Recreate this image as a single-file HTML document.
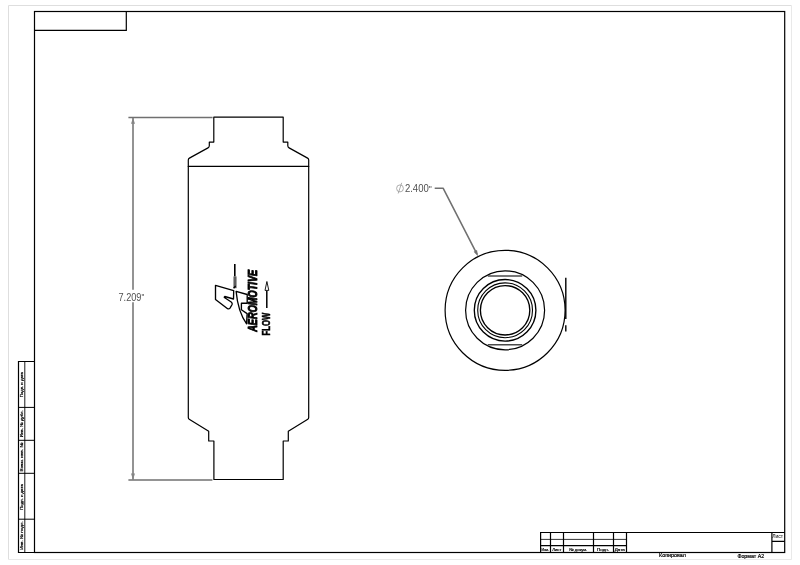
<!DOCTYPE html>
<html lang="ru">
<head>
<meta charset="utf-8">
<title>Aeromotive filter drawing</title>
<style>
html,body{margin:0;padding:0;background:#fff;overflow:hidden;}
body{width:800px;height:565px;position:relative;font-family:"Liberation Sans",sans-serif;}
svg{position:absolute;left:0;top:0;display:block;filter:grayscale(1);will-change:transform;}
text{font-family:"Liberation Sans",sans-serif;}
</style>
</head>
<body>
<svg width="800" height="565" viewBox="0 0 800 565">
  <rect x="0" y="0" width="800" height="565" fill="#ffffff"/>

  <!-- page edge (light grey) -->
  <path d="M8.5 559.5V5.5H791.5" fill="none" stroke="#dedede" stroke-width="1"/>
  <path d="M791.5 5.5V559.5H8.5" fill="none" stroke="#e9e9e9" stroke-width="1"/>

  <!-- main frame -->
  <g fill="none" stroke="#000" stroke-width="1.2" stroke-linejoin="miter">
    <rect x="34.5" y="11.5" width="750.2" height="541"/>
    <!-- top-left small box -->
    <path d="M34.5 30.4H126.3V11.5"/>
    <!-- title block -->
    <path d="M540.6 552.5V532.5H784.7"/>
    <path d="M771.9 532.5V552.5M771.9 541.3H784.7"/>
    <path d="M626.5 532.5V552.5"/>
    <path d="M550.5 532.5V552.5M563.5 532.5V552.5M593.5 532.5V552.5M613.5 532.5V552.5"/>
    <!-- left side block -->
    <path d="M34.5 361.5H18.5V552.5H34.5"/>
    <path d="M18.5 407.4H34.5M18.5 440.3H34.5M18.5 473.3H34.5M18.5 519.2H34.5" stroke-width="1"/>
  </g>
  <g fill="none" stroke="#000" stroke-width="1">
    <path d="M540.5 539.4H626.5" stroke-width="0.8"/>
    <path d="M24.8 361.5V552.5" stroke-width="0.9"/>
  </g>
  <path d="M540.5 545.7H626.5" fill="none" stroke="#000" stroke-width="1.25"/>

  <!-- title block labels -->
  <g font-size="4.2" fill="#000" stroke="#000" stroke-width="0.2">
    <text x="541.4" y="550.9" textLength="7.6" lengthAdjust="spacingAndGlyphs">Изм.</text>
    <text x="552.2" y="550.9" textLength="9.2" lengthAdjust="spacingAndGlyphs">Лист</text>
    <text x="569.3" y="550.9" textLength="17.8" lengthAdjust="spacingAndGlyphs">№ докум.</text>
    <text x="597" y="550.9" textLength="12" lengthAdjust="spacingAndGlyphs">Подп.</text>
    <text x="614.8" y="550.9" textLength="10" lengthAdjust="spacingAndGlyphs">Дата</text>
  </g>
  <text x="772.2" y="538.1" font-size="5.4" fill="#000" textLength="11" lengthAdjust="spacingAndGlyphs">Лист</text>
  <g font-size="5.4" fill="#000" stroke="#000" stroke-width="0.2">
    <text x="659" y="557" textLength="27" lengthAdjust="spacingAndGlyphs">Копировал</text>
    <text x="737.4" y="557.9" textLength="26.8" lengthAdjust="spacingAndGlyphs">Формат А2</text>
  </g>

  <!-- left block labels (rotated) -->
  <g font-size="4.2" fill="#000" stroke="#000" stroke-width="0.2">
    <text transform="translate(22.9 397.2) rotate(-90)" textLength="25.2" lengthAdjust="spacingAndGlyphs">Подп. и дата</text>
    <text transform="translate(22.9 437.2) rotate(-90)" textLength="27" lengthAdjust="spacingAndGlyphs">Инв. № дубл.</text>
    <text transform="translate(22.9 471.4) rotate(-90)" textLength="28.8" lengthAdjust="spacingAndGlyphs">Взам. инв. №</text>
    <text transform="translate(22.9 509.8) rotate(-90)" textLength="25.6" lengthAdjust="spacingAndGlyphs">Подп. и дата</text>
    <text transform="translate(22.9 549.7) rotate(-90)" textLength="28.5" lengthAdjust="spacingAndGlyphs">Инв. № подл.</text>
  </g>

  <!-- ===== side view of the filter body ===== -->
  <g fill="none" stroke="#000" stroke-width="1.2" stroke-linejoin="round" stroke-linecap="round">
    <path d="M213.8 117.1H283.2V142.1H287.8V145.8Q287.8 147.2 289.1 147.9L307.6 158.1Q308.7 158.7 308.7 160.1V417.6Q308.7 418.6 307.8 419.2L288.3 431.3V441H283.2V479.5H213.9V441H208.7V431.3L189.2 419.2Q188.3 418.6 188.3 417.6V160.1Q188.3 158.7 189.4 158.1L208 147.9Q209.3 147.2 209.3 145.8V142.1H213.8Z"/>
    <path d="M188.3 166.4H308.7"/>
  </g>

  <!-- height dimension -->
  <g fill="none" stroke="#707070" stroke-width="1.5">
    <path d="M128.4 117.5H212.6"/>
    <path d="M128.4 479.9H212.4"/>
    <path d="M133 118V289.8M133 302.3V479.4"/>
  </g>
  <g fill="#858585" stroke="none">
    <path d="M133 118L135 123.8H131Z"/>
    <path d="M133 479.4L135 473.6H131Z"/>
  </g>
  <text x="118.5" y="300.5" font-size="10.3" fill="#505050" textLength="25.8" lengthAdjust="spacingAndGlyphs">7.209<tspan font-size="9" dy="-0.3">"</tspan></text>

  <!-- ===== Aeromotive logo (rotated) ===== -->
  <g fill="none" stroke="#000" stroke-width="1.35" stroke-linejoin="round">
    <!-- left half of the A mark -->
    <path d="M215.5 285.3L233.7 290.6L233.5 299L224.8 296.5Q223.8 297.1 224.8 297.8L231.2 302Q232.6 303.1 232.1 304.5L230 308.1Q229 309.2 227.6 308.7L215.5 299.5Z"/>
    <!-- right half of the A mark -->
    <path d="M236.1 291.3L247.2 294.5V303.2H241.4V309.8L247.1 313.6L246.6 323.8Q238 312 236.1 291.3Z"/>
  </g>
  <!-- needle -->
  <path d="M234.8 263.9V276.6" stroke="#000" stroke-width="1.6" fill="none"/>
  <path d="M235 276.4V288.2" stroke="#5c5c5c" stroke-width="3.1" fill="none"/>
  <path d="M235.6 286L233.6 288.2" stroke="#000" stroke-width="1.3" fill="none"/>

  <!-- brand text -->
  <text transform="translate(256.8 331.8) rotate(-90)" font-size="11.9" font-weight="bold" font-style="italic" fill="#000" stroke="#000" stroke-width="0.9" stroke-linejoin="round" textLength="62" lengthAdjust="spacingAndGlyphs">AEROMOTIVE</text>
  <text transform="translate(270.3 335.5) rotate(-90)" font-size="10.2" font-weight="bold" fill="#000" stroke="#000" stroke-width="0.5" textLength="22.8" lengthAdjust="spacingAndGlyphs">FLOW</text>
  <!-- flow arrow -->
  <g fill="none" stroke="#000" stroke-width="1">
    <path d="M266.8 308V290.4" stroke-width="1.5"/>
    <path d="M266.9 281.5L268.8 290.4H265Z" fill="#fff" stroke-width="0.9"/>
  </g>

  <!-- ===== end view ===== -->
  <g fill="none" stroke="#000">
    <circle cx="505.1" cy="310.3" r="60" stroke-width="1.2"/>
    <circle cx="505.1" cy="310.3" r="39.5" stroke-width="1.2"/>
    <circle cx="505.1" cy="310.3" r="30.8" stroke-width="1.35"/>
    <circle cx="505.1" cy="310.3" r="27.4" stroke-width="1.1"/>
    <circle cx="505.1" cy="310.3" r="24.7" stroke-width="1.35"/>
  </g>
  <g fill="none" stroke="#4a4a4a" stroke-width="1.5">
    <path d="M487.8 275.9H522.2"/>
    <path d="M487.8 344.7H522.2"/>
  </g>
  <g fill="none" stroke="#000" stroke-width="1.4">
    <path d="M565.8 277.7V319"/>
    <path d="M565.8 325.2V331.6"/>
  </g>

  <!-- diameter leader -->
  <g fill="none" stroke="#707070" stroke-width="1.55" stroke-linejoin="round">
    <path d="M434.7 188.2H443.1L477 254.2"/>
  </g>
  <path d="M478.1 256.3L473.7 251.8L477 250.1Z" fill="#707070"/>
  <!-- diameter symbol -->
  <g fill="none" stroke="#999" stroke-width="0.8">
    <ellipse cx="400" cy="188.4" rx="3.4" ry="3.5"/>
    <path d="M398.2 193.5L401.7 182.8"/>
  </g>
  <text x="404.9" y="191.8" font-size="10.1" fill="#505050" textLength="26.9" lengthAdjust="spacingAndGlyphs">2.400<tspan font-size="9" dy="-0.3">"</tspan></text>
</svg>
</body>
</html>
